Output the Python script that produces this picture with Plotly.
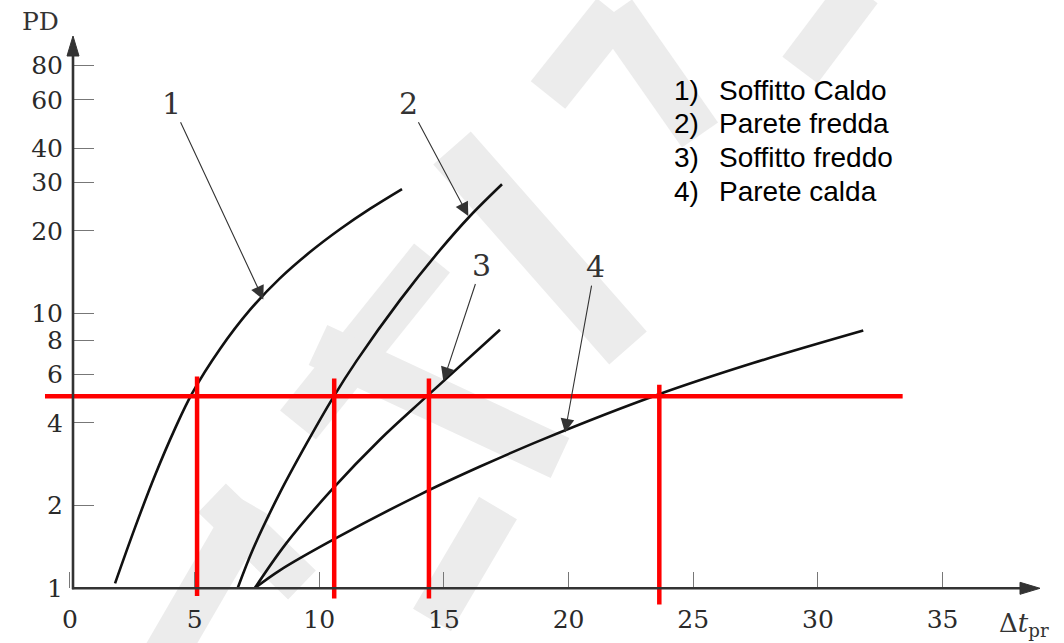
import plotly.graph_objects as go

# ---------------- data ----------------
# curve 1: Soffitto Caldo
c1_x = [1.81, 2.61, 3.41, 4.21, 4.89, 6.02, 7.22, 8.42, 9.63, 10.83, 12.03, 13.32]
c1_y = [1.04, 1.66, 2.57, 3.80, 5.10, 7.43, 10.31, 13.43, 16.75, 20.28, 24.06, 28.42]
# curve 2: Parete fredda
c2_x = [6.73, 7.35, 8.42, 9.50, 10.56, 11.51, 13.24, 14.84, 16.04, 17.33]
c2_y = [1.0, 1.39, 2.22, 3.37, 4.95, 6.75, 11.19, 17.02, 22.62, 29.58]
# curve 3: Soffitto freddo
c3_x = [7.42, 8.69, 10.56, 12.43, 14.31, 17.25]
c3_y = [1.0, 1.46, 2.31, 3.47, 4.99, 8.73]
# curve 4: Parete calda
c4_x = [7.42, 8.42, 10.56, 14.04, 16.45, 18.97, 23.6, 27.4, 31.82]
c4_y = [1.0, 1.16, 1.50, 2.19, 2.77, 3.48, 5.07, 6.60, 8.67]

curve_labels = ["1", "2", "3", "4"]
legend_nums = ["1)", "2)", "3)", "4)"]
legend_names = ["Soffitto Caldo", "Parete fredda", "Soffitto freddo", "Parete calda"]

# red reference lines
RED_PD = 5.0
RED_H_X = [-1.0, 33.4]
RED_X = [5.1, 10.6, 14.4, 23.64]
RED_V_TOP = [5.9, 5.8, 5.8, 5.5]
RED_V_BOTTOM = [0.935, 0.915, 0.915, 0.87]

Y_TICKS = [1, 2, 4, 6, 8, 10, 20, 30, 40, 60, 80]
X_TICKS = [0, 5, 10, 15, 20, 25, 30, 35]

# ---------------- layout geometry ----------------
W, H = 1064, 643
ML, MR, MT, MB = 40, 14, 10, 30
PW, PH = W - ML - MR, H - MT - MB
X_RANGE = [-1.2, 39.31]
Y_RANGE_LOG = [-0.0911, 2.106]


def xd(px):
    return X_RANGE[0] + (px - ML) / PW * (X_RANGE[1] - X_RANGE[0])


def yl(py):
    return Y_RANGE_LOG[1] - (py - MT) / PH * (Y_RANGE_LOG[1] - Y_RANGE_LOG[0])


def xp(px):
    return (px - ML) / PW


def yp(py):
    return 1 - (py - MT) / PH


fig = go.Figure()

# curves
for cx, cy in [(c1_x, c1_y), (c2_x, c2_y), (c3_x, c3_y), (c4_x, c4_y)]:
    fig.add_trace(go.Scatter(x=cx, y=cy, mode="lines",
                             line=dict(color="#111111", width=2.6, shape="spline", smoothing=1.0),
                             hoverinfo="skip", showlegend=False))

# red reference lines
fig.add_trace(go.Scatter(x=RED_H_X, y=[RED_PD, RED_PD], mode="lines",
                         line=dict(color="#ff0000", width=4.5), showlegend=False, hoverinfo="skip"))
for rx, top, bot in zip(RED_X, RED_V_TOP, RED_V_BOTTOM):
    fig.add_trace(go.Scatter(x=[rx, rx], y=[bot, top], mode="lines",
                             line=dict(color="#ff0000", width=4.5), showlegend=False, hoverinfo="skip"))

# watermark bands (decoration, pixel positions)
WM = "#ececec"
bands = [
    ((165, 655), (252, 505), 44),
    ((212, 498), (302, 585), 40),
    ((298, 425), (432, 258), 46),
    ((452, 148), (628, 348), 50),
    ((318, 345), (560, 458), 44),
    ((498, 508), (432, 620), 44),
    ((548, 95), (614, 12), 44),
    ((614, 12), (700, 135), 44),
    ((860, -10), (800, 70), 44),
]
shapes = []
for (x0, y0), (x1, y1), w in bands:
    shapes.append(dict(type="line", xref="paper", yref="paper",
                       x0=xp(x0), y0=yp(y0), x1=xp(x1), y1=yp(y1),
                       line=dict(color=WM, width=w), layer="below"))

# axis lines with arrowheads (pixel positions)
AX_COL = "#333333"
AX_X, AX_Y = 73, 588.3
shapes.append(dict(type="line", xref="paper", yref="paper",
                   x0=xp(AX_X), y0=yp(AX_Y + 1), x1=xp(AX_X), y1=yp(52),
                   line=dict(color=AX_COL, width=2.6), layer="above"))
shapes.append(dict(type="line", xref="paper", yref="paper",
                   x0=xp(AX_X - 1), y0=yp(AX_Y), x1=xp(1024), y1=yp(AX_Y),
                   line=dict(color=AX_COL, width=2.6), layer="above"))
shapes.append(dict(type="path", xref="paper", yref="paper",
                   path="M {} {} L {} {} L {} {} Z".format(xp(AX_X), yp(36), xp(AX_X - 6), yp(56),
                                                          xp(AX_X + 6), yp(56)),
                   fillcolor=AX_COL, line=dict(color=AX_COL, width=1), layer="above"))
shapes.append(dict(type="path", xref="paper", yref="paper",
                   path="M {} {} L {} {} L {} {} Z".format(xp(1040), yp(AX_Y), xp(1020), yp(AX_Y - 6),
                                                          xp(1020), yp(AX_Y + 6)),
                   fillcolor=AX_COL, line=dict(color=AX_COL, width=1), layer="above"))

annotations = []
# curve labels with arrows
label_pos = [(171.7, 103.3), (408.3, 103.3), (481.7, 265.0), (595.0, 266.7)]
tip_pos = [(263.3, 299.5), (468.3, 216.0), (443.3, 381.0), (565.0, 432.5)]
for lab, (lx, ly), (tx, ty) in zip(curve_labels, label_pos, tip_pos):
    annotations.append(dict(x=xd(tx), y=yl(ty), ax=xd(lx), ay=yl(ly),
                            xref="x", yref="y", axref="x", ayref="y",
                            text=lab, showarrow=True, arrowhead=2, arrowsize=2.5,
                            arrowwidth=1.1, arrowcolor="#333333",
                            font=dict(family="DejaVu Serif", size=30, color="#333333")))

# legend text block
for i, (n, name) in enumerate(zip(legend_nums, legend_names)):
    yy = 90 + i * 33.7
    annotations.append(dict(x=xp(672), y=yp(yy), xref="paper", yref="paper", text=n,
                            showarrow=False, xanchor="left", yanchor="middle",
                            font=dict(family="Liberation Sans", size=28, color="#000000")))
    annotations.append(dict(x=xp(717), y=yp(yy), xref="paper", yref="paper", text=name,
                            showarrow=False, xanchor="left", yanchor="middle",
                            font=dict(family="Liberation Sans", size=28, color="#000000")))

# axis titles
annotations.append(dict(x=xp(40), y=yp(21), xref="paper", yref="paper", text="PD",
                        showarrow=False, xanchor="center", yanchor="middle",
                        font=dict(family="DejaVu Serif", size=25, color="#333333")))
annotations.append(dict(x=xp(997), y=yp(624), xref="paper", yref="paper",
                        text="Δ<i>t</i><sub>pr</sub>",
                        showarrow=False, xanchor="left", yanchor="middle",
                        font=dict(family="DejaVu Serif", size=26, color="#333333")))

x_axis_pos = yp(AX_Y)
y_axis_pos = xp(AX_X)

fig.update_layout(
    width=W, height=H,
    margin=dict(l=ML, r=MR, t=MT, b=MB),
    paper_bgcolor="white", plot_bgcolor="white",
    showlegend=False,
    shapes=shapes,
    annotations=annotations,
    xaxis=dict(range=X_RANGE, tickvals=X_TICKS, ticktext=[str(v) for v in X_TICKS],
               ticks="inside", ticklen=16, tickwidth=1.2, tickcolor="#777777",
               showgrid=False, zeroline=False, showline=False,
               anchor="free", position=x_axis_pos, ticklabelstandoff=14,
               tickfont=dict(family="DejaVu Serif", size=25, color="#2a2a2a")),
    yaxis=dict(type="log", range=Y_RANGE_LOG, tickvals=Y_TICKS, ticktext=[str(v) for v in Y_TICKS],
               ticks="inside", ticklen=20, tickwidth=1.2, tickcolor="#777777",
               showgrid=False, zeroline=False, showline=False,
               anchor="free", position=y_axis_pos, ticklabelstandoff=10,
               tickfont=dict(family="DejaVu Serif", size=25, color="#2a2a2a")),
)

fig.write_html("out.html", config={"displayModeBar": False},
               post_script="document.body.style.margin='0px';")
